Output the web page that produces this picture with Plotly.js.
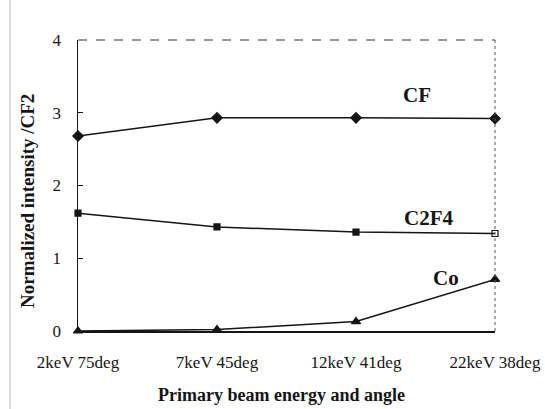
<!DOCTYPE html>
<html>
<head>
<meta charset="utf-8">
<script src="https://cdn.plot.ly/plotly-3.0.1.min.js"></script>
<style>html,body{margin:0;padding:0;background:#fff;}#chart{width:545px;height:409px;}</style>
</head>
<body>
<div id="chart"></div>
<script>
const categories = ["2keV 75deg", "7keV 45deg", "12keV 41deg", "22keV 38deg"];
const cfValues = [2.68, 2.93, 2.93, 2.92];
const c2f4Values = [1.62, 1.43, 1.36, 1.34];
const coValues = [0.0, 0.02, 0.13, 0.71];
const seriesNames = ["CF", "C2F4", "Co"];
const yTicks = [0, 1, 2, 3, 4];
const xTitle = "Primary beam energy and angle";
const yTitle = "Normalized intensity /CF2";

const xIdx = categories.map((c, i) => i);
const serif = '"Liberation Serif", "Times New Roman", serif';
const ink = "#151515";

function trace(name, y, symbol, size) {
  return {
    type: "scatter", mode: "lines+markers", name: name,
    x: xIdx, y: y,
    line: {color: ink, width: 1.5},
    marker: {symbol: symbol, size: size, color: ink, line: {color: ink, width: 1.2}},
    cliponaxis: false
  };
}

const data = [
  trace(seriesNames[0], cfValues, "diamond", 8),
  trace(seriesNames[1], c2f4Values, ["square", "square", "square", "square-open"], 6),
  trace(seriesNames[2], coValues, "triangle-up", 8)
];

const layout = {
  width: 545, height: 409,
  margin: {l: 78, r: 50, t: 40, b: 78},
  paper_bgcolor: "#fff", plot_bgcolor: "#fff",
  showlegend: false,
  font: {family: serif, color: ink, size: 17},
  xaxis: {
    range: [0, 3], tickvals: xIdx, ticktext: categories,
    showgrid: false, zeroline: false, showline: true, linecolor: ink, linewidth: 1.5,
    ticks: "", ticklabelstandoff: 15,
    tickfont: {family: serif, size: 17, color: ink}
  },
  yaxis: {
    range: [0, 4], tickvals: yTicks,
    showgrid: false, zeroline: false, showline: true, linecolor: ink, linewidth: 1.5,
    ticks: "inside", ticklen: 5, tickcolor: ink, ticklabelstandoff: 12,
    tickfont: {family: serif, size: 17, color: ink}
  },
  shapes: [
    {type: "line", xref: "paper", yref: "paper", x0: 0, x1: 1, y0: 1, y1: 1,
     line: {color: "#333", width: 1.2, dash: "dash"}},
    {type: "line", xref: "paper", yref: "paper", x0: 1, x1: 1, y0: 0, y1: 1,
     line: {color: "#555", width: 1, dash: "dot"}},
    {type: "line", xref: "paper", yref: "paper", x0: -0.163, x1: -0.163, y0: -0.27, y1: 1.14,
     line: {color: "#bbb", width: 1}}
  ],
  annotations: [
    {x: 2.44, y: 3.24, xref: "x", yref: "y", text: "<b>CF</b>", showarrow: false,
     font: {family: serif, size: 21, color: ink}},
    {x: 2.52, y: 1.55, xref: "x", yref: "y", text: "<b>C2F4</b>", showarrow: false,
     font: {family: serif, size: 21, color: ink}},
    {x: 2.65, y: 0.73, xref: "x", yref: "y", text: "<b>Co</b>", showarrow: false,
     font: {family: serif, size: 21, color: ink}},
    {x: 0.489, y: -0.22, xref: "paper", yref: "paper", text: "<b>" + xTitle + "</b>",
     showarrow: false, xanchor: "center", yanchor: "middle",
     font: {family: serif, size: 18, color: ink}},
    {x: -0.12, y: 0.447, xref: "paper", yref: "paper", text: "<b>" + yTitle + "</b>",
     showarrow: false, textangle: -90, xanchor: "center", yanchor: "middle",
     font: {family: serif, size: 19, color: ink}}
  ]
};

Plotly.newPlot("chart", data, layout, {displayModeBar: false, staticPlot: true});
</script>
</body>
</html>
